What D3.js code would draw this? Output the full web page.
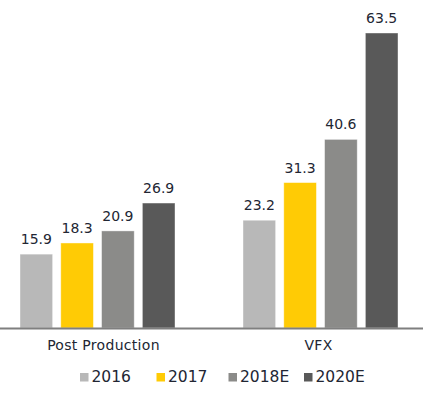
<!DOCTYPE html>
<html><head><meta charset="utf-8">
<script src="https://cdn.jsdelivr.net/npm/d3@7"></script>
<style>body{margin:0;background:#fff}svg{display:block}</style>
</head><body>
<svg id="chart" width="427" height="396"></svg>
<script>
const categories = ["Post Production", "VFX"];
const seriesNames = ["2016", "2017", "2018E", "2020E"];
const values2016 = [15.9, 23.2];
const values2017 = [18.3, 31.3];
const values2018E = [20.9, 40.6];
const values2020E = [26.9, 63.5];
const colors = ["#b8b8b8", "#ffcb05", "#8b8b89", "#595959"];

const seriesValues = [values2016, values2017, values2018E, values2020E];
const svg = d3.select("#chart");
const baseY = 328;
const x0 = d3.scaleBand().domain(categories).range([-14, 432]).padding(0);
const x1 = d3.scaleBand().domain(seriesNames).range([34, 189]).paddingInner(0.2).paddingOuter(0);
const y = d3.scaleLinear().domain([0, 63.5]).range([baseY, 33]);

const data = [];
categories.forEach((c, ci) => seriesNames.forEach((s, si) => data.push({c, s, si, v: seriesValues[si][ci]})));

svg.selectAll("rect.bar").data(data).join("rect").attr("class", "bar")
  .attr("x", d => x0(d.c) + x1(d.s))
  .attr("y", d => y(d.v))
  .attr("width", x1.bandwidth())
  .attr("height", d => baseY - y(d.v))
  .attr("fill", d => colors[d.si])
  .attr("stroke", "#ffffff").attr("stroke-opacity", 0.5).attr("stroke-width", 0.8);

svg.selectAll("text.val").data(data).join("text").attr("class", "val")
  .attr("x", d => x0(d.c) + x1(d.s) + x1.bandwidth() / 2)
  .attr("y", d => y(d.v) - 10)
  .attr("text-anchor", "middle")
  .attr("font-family", "DejaVu Sans")
  .attr("font-size", 14)
  .attr("fill", "#222633")
  .text(d => d.v.toFixed(1));

svg.append("line").attr("x1", 0).attr("x2", 423).attr("y1", baseY + 0.5).attr("y2", baseY + 0.5)
  .attr("stroke", "#7f7f7f").attr("stroke-width", 2);

const catOffset = [6, -2];
svg.selectAll("text.cat").data(categories).join("text").attr("class", "cat")
  .attr("x", (d, i) => x0(d) + x0.bandwidth() / 2 + catOffset[i])
  .attr("y", 350)
  .attr("text-anchor", "middle")
  .attr("font-family", "DejaVu Sans")
  .attr("font-size", 14)
  .attr("letter-spacing", 0.3)
  .attr("fill", "#222633")
  .text(d => d);

const legendX = [80, 156.5, 228.5, 304];
const lg = svg.selectAll("g.leg").data(seriesNames).join("g").attr("class", "leg")
  .attr("transform", (d, i) => `translate(${legendX[i]},373)`);
lg.append("rect").attr("width", 8.5).attr("height", 8.5).attr("fill", (d, i) => colors[i]);
lg.append("text").attr("x", 11.5).attr("y", 9)
  .attr("font-family", "DejaVu Sans").attr("font-size", 15.5)
  .attr("fill", "#222633").text(d => d);
</script>
</body></html>
